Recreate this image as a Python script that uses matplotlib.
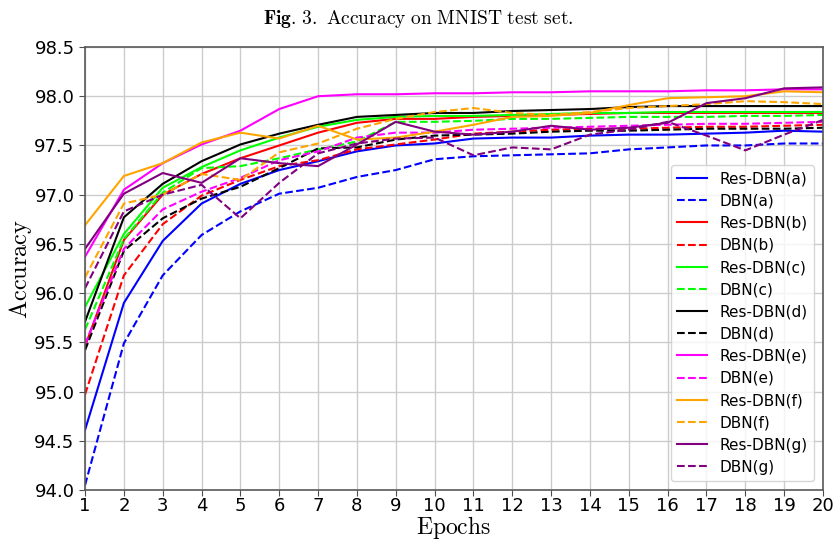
import numpy as np
import matplotlib
matplotlib.use("Agg")
import matplotlib.pyplot as plt

plt.rcParams["mathtext.fontset"] = "cm"

epochs = list(range(1, 21))

res_a = [94.61, 95.90, 96.53, 96.91, 97.11, 97.25, 97.34, 97.44, 97.50, 97.52,
         97.57, 97.58, 97.58, 97.60, 97.61, 97.61, 97.62, 97.63, 97.65, 97.64]
dbn_a = [94.05, 95.49, 96.18, 96.59, 96.83, 97.01, 97.07, 97.18, 97.25, 97.36,
         97.39, 97.40, 97.41, 97.42, 97.46, 97.48, 97.50, 97.50, 97.52, 97.52]
res_b = [95.46, 96.54, 97.00, 97.21, 97.37, 97.50, 97.63, 97.73, 97.77, 97.77,
         97.79, 97.80, 97.81, 97.82, 97.83, 97.83, 97.83, 97.83, 97.83, 97.83]
dbn_b = [94.97, 96.18, 96.70, 96.99, 97.15, 97.29, 97.35, 97.46, 97.51, 97.56,
         97.62, 97.64, 97.66, 97.67, 97.67, 97.68, 97.69, 97.69, 97.70, 97.71]
res_c = [95.86, 96.60, 97.07, 97.28, 97.45, 97.58, 97.69, 97.76, 97.79, 97.80,
         97.80, 97.81, 97.82, 97.83, 97.83, 97.84, 97.84, 97.84, 97.84, 97.84]
dbn_c = [95.63, 96.55, 97.02, 97.27, 97.29, 97.37, 97.46, 97.54, 97.74, 97.74,
         97.75, 97.77, 97.77, 97.78, 97.79, 97.79, 97.79, 97.80, 97.80, 97.81]
res_d = [95.71, 96.77, 97.11, 97.34, 97.51, 97.62, 97.71, 97.79, 97.81, 97.83,
         97.83, 97.85, 97.86, 97.87, 97.89, 97.90, 97.90, 97.90, 97.90, 97.90]
dbn_d = [95.42, 96.43, 96.76, 96.96, 97.08, 97.27, 97.47, 97.48, 97.56, 97.60,
         97.61, 97.62, 97.64, 97.65, 97.65, 97.66, 97.67, 97.67, 97.67, 97.68]
res_e = [96.37, 97.05, 97.32, 97.51, 97.65, 97.87, 98.00, 98.02, 98.02, 98.03,
         98.03, 98.04, 98.04, 98.05, 98.05, 98.05, 98.06, 98.06, 98.07, 98.07]
dbn_e = [95.48, 96.45, 96.85, 97.03, 97.17, 97.35, 97.44, 97.58, 97.63, 97.63,
         97.66, 97.67, 97.68, 97.69, 97.70, 97.71, 97.72, 97.72, 97.73, 97.74]
res_f = [96.69, 97.19, 97.32, 97.53, 97.63, 97.57, 97.70, 97.56, 97.58, 97.64,
         97.71, 97.79, 97.80, 97.83, 97.91, 97.98, 97.99, 98.00, 98.05, 98.04]
dbn_f = [96.16, 96.91, 97.00, 97.21, 97.15, 97.43, 97.52, 97.67, 97.77, 97.84,
         97.88, 97.83, 97.81, 97.84, 97.88, 97.90, 97.92, 97.95, 97.94, 97.92]
res_g = [96.45, 97.01, 97.22, 97.12, 97.37, 97.32, 97.29, 97.51, 97.74, 97.64,
         97.61, 97.64, 97.70, 97.66, 97.68, 97.73, 97.93, 97.98, 98.08, 98.09]
dbn_g = [96.05, 96.83, 97.00, 97.10, 96.76, 97.12, 97.42, 97.52, 97.57, 97.58,
         97.40, 97.48, 97.46, 97.61, 97.66, 97.74, 97.60, 97.45, 97.61, 97.76]

series = [
    ("Res-DBN(a)", res_a, "#0000ff", "-"),
    ("DBN(a)", dbn_a, "#0000ff", "--"),
    ("Res-DBN(b)", res_b, "#ff0000", "-"),
    ("DBN(b)", dbn_b, "#ff0000", "--"),
    ("Res-DBN(c)", res_c, "#00ff00", "-"),
    ("DBN(c)", dbn_c, "#00ff00", "--"),
    ("Res-DBN(d)", res_d, "#000000", "-"),
    ("DBN(d)", dbn_d, "#000000", "--"),
    ("Res-DBN(e)", res_e, "#ff00ff", "-"),
    ("DBN(e)", dbn_e, "#ff00ff", "--"),
    ("Res-DBN(f)", res_f, "#ffa500", "-"),
    ("DBN(f)", dbn_f, "#ffa500", "--"),
    ("Res-DBN(g)", res_g, "#800080", "-"),
    ("DBN(g)", dbn_g, "#800080", "--"),
]

fig = plt.figure(figsize=(8.37, 5.41), dpi=100)
ax = fig.add_axes([0.1016, 0.0943, 0.8817, 0.8188])

for label, vals, color, ls in series:
    ax.plot(epochs, vals, color=color, linestyle=ls, linewidth=1.5, label=label)

ax.set_xlim(1, 20)
ax.set_ylim(94.0, 98.5)
ax.set_xticks(epochs)
yt = np.arange(94.0, 98.51, 0.5)
ax.set_yticks(yt)
ax.set_yticklabels([f"{v:.1f}" for v in yt])
ax.tick_params(labelsize=13, length=4, color="0.3")
ax.tick_params(axis="x", pad=1)
ax.grid(color="0.8", linewidth=1.0)
for s in ax.spines.values():
    s.set_color("0.35")
    s.set_linewidth(1.2)

ax.set_xlabel(r"$\mathrm{Epochs}$", fontsize=17)
ax.xaxis.set_label_coords(0.5, -0.054)
ax.set_ylabel(r"$\mathrm{Accuracy}$", fontsize=17.5)
ax.yaxis.set_label_coords(-0.069, 0.5)

fig.text(0.5, 0.965, r"$\mathbf{Fig.\,3.}\ \mathrm{Accuracy\ on\ MNIST\ test\ set.}$",
         ha="center", va="center", fontsize=14)

ax.legend(loc="lower right", fontsize=11, handlelength=2.0, labelspacing=0.47,
          borderaxespad=0.6)

fig.savefig("out.png", dpi=100)
